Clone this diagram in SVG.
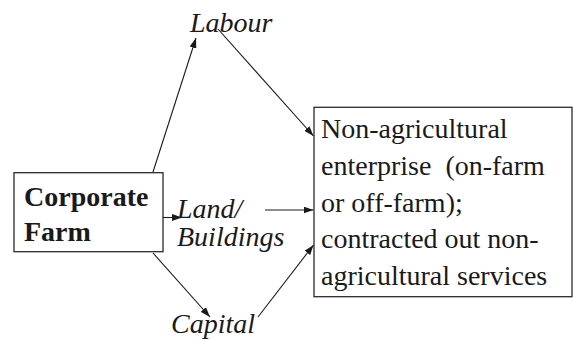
<svg xmlns="http://www.w3.org/2000/svg" width="573" height="340" viewBox="0 0 573 340">
  <defs>
    <marker id="ah" viewBox="0 0 10 7" refX="10" refY="3.5" markerWidth="10" markerHeight="7" orient="auto" markerUnits="userSpaceOnUse">
      <path d="M0,0 L10,3.5 L0,7 z" fill="#1a1a1a"/>
    </marker>
  </defs>
  <style>
    .box { fill: #ffffff; stroke: #2a2a2a; stroke-width: 1.3; }
    .bold { font-weight: bold; }
    .ital { font-style: italic; }
    .edge { stroke: #1a1a1a; stroke-width: 1.1; fill: none; marker-end: url(#ah); }
  </style>
  <rect width="573" height="340" fill="#ffffff"/>

  <g id="connectors">
    <line class="edge" x1="153" y1="172" x2="196" y2="38"/>
    <line class="edge" x1="218" y1="29" x2="313.5" y2="136"/>
    <line class="edge" x1="153" y1="217.5" x2="182" y2="217.5"/>
    <line class="edge" x1="265" y1="210" x2="313.5" y2="210"/>
    <line class="edge" x1="153" y1="253" x2="210" y2="317"/>
    <line class="edge" x1="258" y1="317" x2="313.5" y2="245"/>
  </g>

  <g font-family="Liberation Serif, serif" font-size="28" fill="#1a1a1a">
    <g id="corporate-farm">
      <rect class="box" x="14" y="172.7" width="149" height="79"/>
      <text class="bold" x="24" y="206">Corporate</text>
      <text class="bold" x="24" y="241">Farm</text>
    </g>

    <g id="labour">
      <text class="ital" x="190" y="32">Labour</text>
    </g>

    <g id="land-buildings">
      <text class="ital" x="177" y="218">Land/</text>
      <text class="ital" x="177" y="246">Buildings</text>
    </g>

    <g id="capital">
      <text class="ital" x="171" y="333">Capital</text>
    </g>

    <g id="non-agricultural">
      <rect class="box" x="314" y="107.3" width="258" height="189.4"/>
      <text x="321" y="138.3">Non-agricultural</text>
      <text x="321" y="175" xml:space="preserve">enterprise  (on-farm</text>
      <text x="321" y="211.7">or off-farm);</text>
      <text x="321" y="248.3">contracted out non-</text>
      <text x="321" y="285">agricultural services</text>
    </g>
  </g>
</svg>
